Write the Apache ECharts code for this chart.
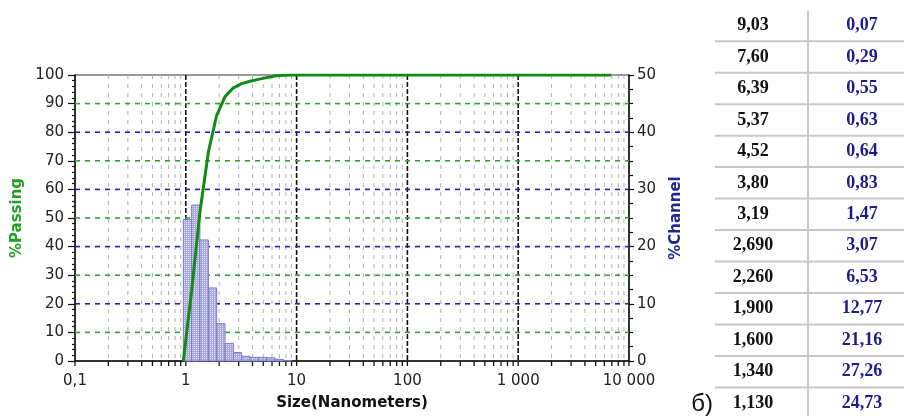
<!DOCTYPE html>
<html>
<head>
<meta charset="utf-8">
<script src="https://cdn.jsdelivr.net/npm/echarts@6.0.0/dist/echarts.min.js"></script>
<style>
html,body{margin:0;padding:0;background:#fff;}
#chart{width:904px;height:416px;}
</style>
</head>
<body>
<div id="chart"></div>
<script>
// ---- data ----
const binLower = [0.95, 1.13, 1.34, 1.60, 1.90, 2.26, 2.69, 3.19, 3.80, 4.52, 5.37, 6.39, 7.60];
const binUpper = [1.13, 1.34, 1.60, 1.90, 2.26, 2.69, 3.19, 3.80, 4.52, 5.37, 6.39, 7.60, 9.03];
const channelPct = [24.73, 27.26, 21.16, 12.77, 6.53, 3.07, 1.47, 0.83, 0.64, 0.63, 0.55, 0.29, 0.07];
const curveSize = [0.95, 1.13, 1.34, 1.60, 1.90, 2.26, 2.69, 3.19, 3.80, 4.52, 5.37, 6.39, 7.60, 9.03, 6900];
const curvePassing = [0, 24.73, 51.99, 73.15, 85.92, 92.45, 95.52, 96.99, 97.82, 98.46, 99.09, 99.64, 99.93, 100, 100];
const xTickLabels = ['0,1', '1', '10', '100', '1 000', '10 000'];
const tableSize = ['9,03', '7,60', '6,39', '5,37', '4,52', '3,80', '3,19', '2,690', '2,260', '1,900', '1,600', '1,340', '1,130'];
const tableChannel = ['0,07', '0,29', '0,55', '0,63', '0,64', '0,83', '1,47', '3,07', '6,53', '12,77', '21,16', '27,26', '24,73'];
const greenGrid = [10, 30, 50, 70, 90];   // %Passing axis
const blueGrid = [10, 20, 30, 40];        // %Channel axis
const majorX = [1, 10, 100, 1000];
const decades = [0.1, 1, 10, 100, 1000];

// ---- helpers ----
const minorX = [];
decades.forEach(d => { for (let k = 2; k <= 9; k++) minorX.push(d * k); });
const tickX = [0.1].concat(minorX).concat([1, 10, 100, 1000, 10000]);

const pc = document.createElement('canvas');
pc.width = 2; pc.height = 2;
const pctx = pc.getContext('2d');
pctx.fillStyle = '#a8a8de'; pctx.fillRect(0, 0, 2, 2);
pctx.fillStyle = '#e6e6f8'; pctx.fillRect(0, 0, 1, 1);
const barPattern = { type: 'pattern', image: pc, repeat: 'repeat' };

const chart = echarts.init(document.getElementById('chart'), null, { renderer: 'canvas' });

const baseFont = '"DejaVu Sans", Verdana, sans-serif';
const gridL = 75, gridT = 75, gridR = 275, gridB = 53;

// table graphics
const tableGraphics = [];
const rowH = 31.47, row0 = 25.5;
tableGraphics.push({ type: 'line', shape: { x1: 808, y1: 11, x2: 808, y2: 416 }, style: { stroke: '#c8c8c8', lineWidth: 2 }, silent: true });
tableSize.forEach((s, i) => {
  const cy = row0 + i * rowH;
  tableGraphics.push({ type: 'text', x: 753, y: cy, style: { text: s, fill: '#111', font: 'bold 18px "Liberation Serif", "Times New Roman", serif', align: 'center', verticalAlign: 'middle' } });
  tableGraphics.push({ type: 'text', x: 862, y: cy, style: { text: tableChannel[i], fill: '#1c1c8c', font: 'bold 18px "Liberation Serif", "Times New Roman", serif', align: 'center', verticalAlign: 'middle' } });
  if (i < tableSize.length - 1) {
    const ly = cy + rowH / 2;
    tableGraphics.push({ type: 'line', shape: { x1: 715, y1: ly, x2: 904, y2: ly }, style: { stroke: '#c8c8c8', lineWidth: 2 }, silent: true });
  }
});
tableGraphics.push({ type: 'text', x: 702, y: 404, style: { text: 'б)', fill: '#111', font: '24px "Liberation Sans", Arial, sans-serif', align: 'center', verticalAlign: 'middle' } });

function line(a, b, stroke, lw, dash) {
  return { type: 'line', shape: { x1: a[0], y1: a[1], x2: b[0], y2: b[1] }, style: { stroke: stroke, lineWidth: lw, lineDash: dash || null } };
}

const option = {
  animation: false,
  backgroundColor: '#fff',
  grid: { left: gridL, top: gridT, right: gridR, bottom: gridB, show: true, borderColor: '#333', borderWidth: 1, backgroundColor: 'transparent' },
  xAxis: {
    type: 'log', logBase: 10, min: 0.1, max: 10000,
    name: 'Size(Nanometers)', nameLocation: 'middle', nameGap: 35,
    nameTextStyle: { fontFamily: baseFont, fontWeight: 'bold', fontSize: 15, color: '#111' },
    axisLine: { show: true, onZero: false, lineStyle: { color: '#111', width: 1.5 } },
    axisTick: { show: false },
    splitLine: { show: false },
    axisLabel: {
      margin: 13, fontFamily: baseFont, fontSize: 15, color: '#222',
      formatter: function (v, i) { const k = Math.round(Math.log10(v)) + 1; return xTickLabels[k] !== undefined ? xTickLabels[k] : ''; }
    }
  },
  yAxis: [
    {
      type: 'value', min: 0, max: 100, interval: 10, position: 'left',
      name: '%Passing', nameLocation: 'middle', nameGap: 50, nameRotate: 90,
      nameTextStyle: { fontFamily: baseFont, fontWeight: 'bold', fontSize: 15, color: '#22a022' },
      axisLine: { show: true, lineStyle: { color: '#111', width: 1.5 } },
      axisTick: { show: true, length: 7, lineStyle: { color: '#111', width: 1.2 } },
      minorTick: { show: true, splitNumber: 5, length: 3, lineStyle: { color: '#111', width: 1.2 } },
      splitLine: { show: false },
      axisLabel: { margin: 11, fontFamily: baseFont, fontSize: 15, color: '#222' }
    },
    {
      type: 'value', min: 0, max: 50, interval: 10, position: 'right',
      name: '%Channel', nameLocation: 'middle', nameGap: 40, nameRotate: 90,
      nameTextStyle: { fontFamily: baseFont, fontWeight: 'bold', fontSize: 15, color: '#1c2a90' },
      axisLine: { show: true, lineStyle: { color: '#111', width: 1.5 } },
      axisTick: { show: true, length: 5, lineStyle: { color: '#111', width: 1.2 } },
      minorTick: { show: true, splitNumber: 4, length: 4, lineStyle: { color: '#111', width: 1.2 } },
      splitLine: { show: false },
      axisLabel: { margin: 8, fontFamily: baseFont, fontSize: 15, color: '#222' }
    }
  ],
  graphic: tableGraphics,
  series: [
    {
      type: 'custom', name: 'gridLeft', xAxisIndex: 0, yAxisIndex: 0, z: 1, silent: true, clip: false,
      data: [[1, 50]],
      renderItem: function (params, api) {
        const ch = [];
        minorX.forEach(v => ch.push(line(api.coord([v, 100]), api.coord([v, 0]), '#b0b0b0', 1, [4, 5])));
        majorX.forEach(v => ch.push(line(api.coord([v, 100]), api.coord([v, 0]), '#111', 1.6, [5, 2])));
        greenGrid.forEach(y => ch.push(line(api.coord([0.1, y]), api.coord([10000, y]), '#36a036', 1.6, [5, 5])));
        tickX.forEach(v => { const p = api.coord([v, 0]); ch.push(line(p, [p[0], p[1] + 5], '#111', 1.3)); });
        return { type: 'group', children: ch };
      }
    },
    {
      type: 'custom', name: 'gridRight', xAxisIndex: 0, yAxisIndex: 1, z: 1, silent: true,
      data: [[1, 25]],
      renderItem: function (params, api) {
        const ch = [];
        blueGrid.forEach(y => ch.push(line(api.coord([0.1, y]), api.coord([10000, y]), '#2222b4', 1.6, [5, 5])));
        return { type: 'group', children: ch };
      }
    },
    {
      type: 'custom', name: '%Channel', xAxisIndex: 0, yAxisIndex: 1, z: 3,
      encode: { x: [0, 1], y: 2 },
      data: channelPct.map((v, i) => [binLower[i], binUpper[i], v]),
      renderItem: function (params, api) {
        const p1 = api.coord([api.value(0), api.value(2)]);
        const p2 = api.coord([api.value(1), 0]);
        return {
          type: 'rect',
          shape: { x: p1[0], y: p1[1], width: p2[0] - p1[0], height: p2[1] - p1[1] },
          style: { fill: barPattern, stroke: '#7a7ac6', lineWidth: 1 }
        };
      }
    },
    {
      type: 'line', name: '%Passing', xAxisIndex: 0, yAxisIndex: 0, z: 5,
      showSymbol: false, smooth: false,
      lineStyle: { color: '#138a13', width: 3 },
      data: curveSize.map((s, i) => [s, curvePassing[i]])
    }
  ]
};
chart.setOption(option);
</script>
</body>
</html>
